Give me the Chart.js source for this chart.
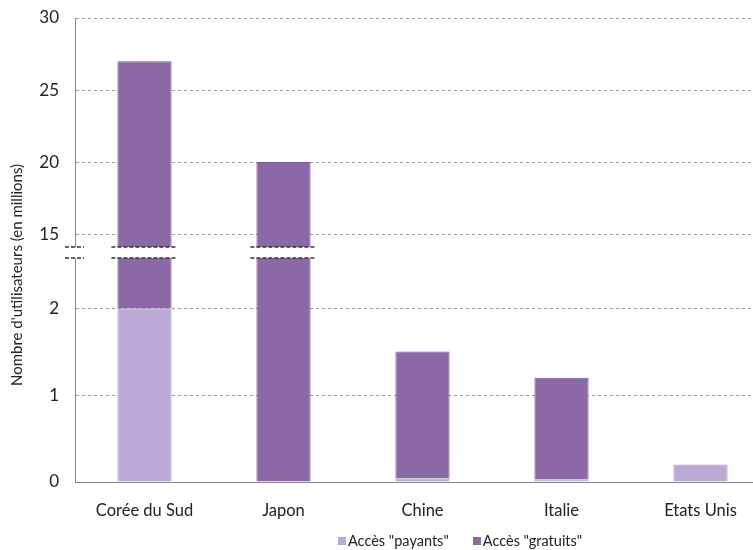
<!DOCTYPE html>
<html>
<head>
<meta charset="utf-8">
<script src="https://cdn.jsdelivr.net/npm/chart.js@4.4.0/dist/chart.umd.min.js"></script>
<style>
body { margin: 0; background: #fff; }
#wrap { position: relative; width: 753px; height: 550px; overflow: hidden; }
#legend { position: absolute; left: 338px; top: 532px; font: 14.5px Lato, sans-serif; color: #222; white-space: nowrap; }
#legend span.item { margin-right: 24px; }
#legend i { display: inline-block; width: 8px; height: 8px; margin-right: 2px; vertical-align: 1px; }
</style>
</head>
<body>
<div id="wrap">
  <canvas id="mycanvas" width="770" height="550"></canvas>
  <div id="legend"></div>
</div>
<script>
var categories = ['Corée du Sud', 'Japon', 'Chine', 'Italie', 'Etats Unis'];
var payants = [2, 0, 0.04, 0.03, 0.2];
var gratuits = [25, 20, 1.46, 1.17, 0];
var seriesNames = ['Accès "payants"', 'Accès "gratuits"'];
var seriesColors = ['#bcaad6', '#8b68a6'];
var lowTicks = [0, 1, 2];
var highTicks = [15, 20, 25, 30];
var lowMax = 2.64;
var highMin = 13.72;
var yTitle = "Nombre d'utilisateurs (en millions)";

var total = payants.map(function(v, i) { return v + gratuits[i]; });
var gratuitsLow = total.map(function(v, i) { return Math.min(v, lowMax) - payants[i]; });
var gratuitsHigh = total.map(function(v) { return v > lowMax ? v : null; });

// legend in html
var legendHtml = '';
for (var i = 0; i < seriesNames.length; i++) {
	legendHtml += '<span class="item"><i style="background:' + seriesColors[i] + '"></i>' + seriesNames[i] + '</span>';
}
document.getElementById('legend').innerHTML = legendHtml;

var breakPlugin = {
	id: 'axisBreak',
	afterDatasetsDraw: function(chart) {
		var ctx = chart.ctx;
		var area = chart.chartArea;
		var mid = chart.scales.yLow.top;
		var y1 = mid - 5.5, y2 = mid + 5.5;
		ctx.save();
		ctx.fillStyle = '#fff';
		ctx.fillRect(area.left - 14, y1, area.right - area.left + 14, y2 - y1);
		ctx.strokeStyle = '#333';
		ctx.lineWidth = 1.3;
		ctx.setLineDash([4, 2]);
		var segs = [[area.left - 10, area.left + 9]];
		chart.getDatasetMeta(1).data.forEach(function(el, i) {
			if (total[i] > lowMax) segs.push([el.x - el.width / 2 - 6, el.x + el.width / 2 + 5]);
		});
		segs.forEach(function(s) {
			[y1, y2].forEach(function(y) {
				ctx.beginPath();
				ctx.moveTo(s[0], y);
				ctx.lineTo(s[1], y);
				ctx.stroke();
			});
		});
		ctx.restore();
	}
};

var titlePlugin = {
	id: 'yTitle',
	afterDraw: function(chart) {
		var ctx = chart.ctx;
		var area = chart.chartArea;
		ctx.save();
		ctx.translate(17, (area.top + area.bottom) / 2 + 25);
		ctx.rotate(-Math.PI / 2);
		ctx.fillStyle = '#222';
		ctx.font = '15px Lato, sans-serif';
		ctx.textAlign = 'center';
		ctx.textBaseline = 'middle';
		ctx.fillText(yTitle, 0, 0);
		ctx.restore();
	}
};

var gridOpts = { color: '#9a9a9a', lineWidth: 1, drawTicks: false };
var borderOpts = { display: true, color: '#888', width: 1, dash: [3, 3] };
var tickFont = { family: 'Lato, sans-serif', size: 17 };

function fitY(s) {
	s.width = 75;
	s.paddingTop = 0;
	s.paddingBottom = 0;
}

var chartdata = {
	labels: categories,
	datasets: [
		{ label: seriesNames[0], data: payants, backgroundColor: seriesColors[0], borderColor: '#ad9acb', borderWidth: 1, yAxisID: 'yLow', stack: 's' },
		{ label: seriesNames[1], data: gratuitsLow, backgroundColor: seriesColors[1], borderColor: '#7c5a99', borderWidth: 1, yAxisID: 'yLow', stack: 's' },
		{ label: seriesNames[1], data: gratuitsHigh, backgroundColor: seriesColors[1], borderColor: '#7c5a99', borderWidth: 1, yAxisID: 'yHigh', stack: 's' }
	]
};

var ctx = document.getElementById('mycanvas');
var barGraph = new Chart(ctx, {
	type: 'bar',
	data: chartdata,
	plugins: [breakPlugin, titlePlugin],
	options: {
		responsive: false,
		animation: false,
		categoryPercentage: 1,
		barPercentage: 0.39,
		layout: { padding: { top: 18, right: 0, left: 0, bottom: 0 } },
		plugins: { legend: { display: false }, tooltip: { enabled: false } },
		scales: {
			x: {
				stacked: true,
				grid: { display: false, drawTicks: false },
				border: { display: true, color: '#888' },
				ticks: { color: '#222', font: { family: 'Lato, sans-serif', size: 16.5 }, padding: 19 },
				afterFit: function(s) { s.height = 68; s.paddingLeft = 0; s.paddingRight = 0; }
			},
			yLow: {
				type: 'linear', position: 'left', stack: 'y', stackWeight: 229.5, stacked: true,
				min: 0, max: lowMax,
				grid: gridOpts, border: borderOpts,
				afterBuildTicks: function(s) { s.ticks = lowTicks.map(function(v) { return { value: v }; }); },
				ticks: { color: '#222', font: tickFont, padding: 16 },
				afterFit: fitY
			},
			yHigh: {
				type: 'linear', position: 'left', stack: 'y', stackWeight: 234.5, stacked: true,
				min: highMin, max: 30,
				grid: gridOpts, border: borderOpts,
				afterBuildTicks: function(s) { s.ticks = highTicks.map(function(v) { return { value: v }; }); },
				ticks: { color: '#222', font: tickFont, padding: 16 },
				afterFit: fitY
			}
		}
	}
});
</script>
</body>
</html>
